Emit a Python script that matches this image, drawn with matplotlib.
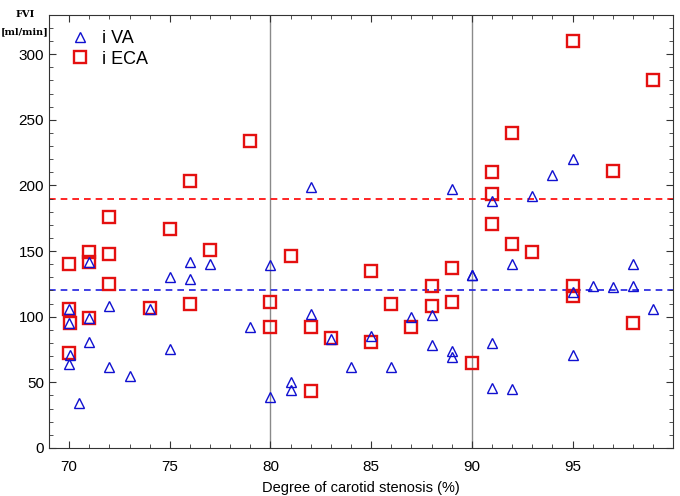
import matplotlib
matplotlib.use('Agg')
from matplotlib import pyplot as plt
from matplotlib.ticker import MultipleLocator

plt.rcParams['font.family'] = ['Liberation Sans', 'DejaVu Sans']

# iVA (triangles)
va_x = [70, 70, 70, 70.05, 70.5, 71, 71, 71, 72, 72, 73, 74, 75, 75, 76, 76, 77, 79,
        80, 80, 81, 81, 82, 82, 83, 84, 85, 86, 87, 88, 88, 89, 89, 89, 90,
        90, 91, 91, 91, 92, 92, 93, 94, 95, 95, 95, 96, 97, 98, 98, 99]
va_y = [106, 95, 64, 71, 34, 142, 99, 81, 108, 61.5, 55, 106, 130, 75.5, 142, 129, 140, 92,
        139, 38.5, 50, 44, 198.5, 102, 83, 62, 85.5, 61.5, 100, 101, 78.5, 197.5, 74, 69.5, 132,
        131.8, 188, 80, 46, 140.5, 44.7, 192, 208, 220, 119, 71, 123, 122.5, 140.5, 123.5, 105.5]

# iECA (squares)
eca_x = [70, 70, 70.05, 70, 71, 71, 71, 72, 72, 72, 74, 75, 76, 76, 77, 79,
         80, 80, 81, 82, 82, 83, 85, 85, 86, 87, 88, 88, 89, 89, 90,
         91, 91, 91, 92, 92, 93, 95, 95, 95, 97, 98, 99]
eca_y = [140.5, 106, 95, 72, 149, 142, 99, 176, 147.5, 125, 106.5, 166.5, 203.5, 110, 150.5, 234,
         111, 92, 146, 92, 43.5, 83.5, 135, 81, 110, 92, 123, 108, 137, 111, 65,
         210, 193.5, 170.5, 240, 155.5, 149, 310, 123.5, 116, 211, 95, 280]

va_mean = 120
eca_mean = 190
x_ticks = [70, 75, 80, 85, 90, 95]

fig = plt.figure(figsize=(6.8, 4.96), dpi=100)
ax = fig.add_axes([0.072, 0.097, 0.918, 0.873])

ax.axvline(80, color='#8a8a8a', lw=1, zorder=1)
ax.axvline(90, color='#8a8a8a', lw=1, zorder=1)
ax.axhline(eca_mean, color='red', lw=1.2, ls=(0, (4, 3)), zorder=1)
ax.axhline(va_mean, color='#2020e0', lw=1.2, ls=(0, (4, 3)), zorder=1)

ax.plot(va_x, va_y, ls='none', marker='^', ms=7, mfc='none', mec='#1010d0', mew=1.0, label='i VA', zorder=3)
ax.plot(eca_x, eca_y, ls='none', marker='s', ms=8, mfc='none', mec='#e41010', mew=1.7, label='i ECA', zorder=2)

ax.set_xlim(69, 100)
ax.set_ylim(0, 330)
ax.set_xticks(x_ticks)
ax.xaxis.set_minor_locator(MultipleLocator(1))
ax.yaxis.set_major_locator(MultipleLocator(50))
ax.yaxis.set_minor_locator(MultipleLocator(10))
ax.tick_params(which='both', direction='in', top=True, right=True, labelsize=11, color='#333333')
ax.tick_params(which='major', length=5)
ax.tick_params(which='minor', length=3)
ax.tick_params(axis='x', pad=9)
for s in ax.spines.values():
    s.set_color('#333333')

ax.set_xlabel('Degree of carotid stenosis (%)', fontsize=10.5, labelpad=5)
fig.text(0.037, 0.970, 'FVI', fontsize=7, fontweight='bold', family='DejaVu Serif', ha='center', va='center')
fig.text(0.037, 0.936, '[ml/min]', fontsize=7, fontweight='bold', family='DejaVu Serif', ha='center', va='center')

ax.legend(loc='upper left', bbox_to_anchor=(0.01, 0.99), frameon=False, fontsize=13,
          handletextpad=0.5, borderaxespad=0.2, labelspacing=0.2, handlelength=1.5)

plt.savefig('out.png', dpi=100)
